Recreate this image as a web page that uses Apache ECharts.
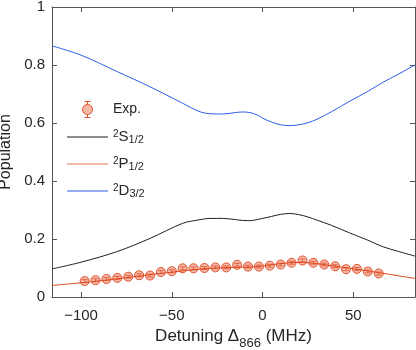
<!DOCTYPE html>
<html>
<head>
<meta charset="utf-8">
<script src="https://cdn.jsdelivr.net/npm/echarts@6/dist/echarts.min.js"></script>
<style>
  html, body { margin: 0; padding: 0; background: #fff; }
  #chart { width: 416px; height: 350px; }
</style>
</head>
<body>
<div id="chart"></div>
<script>
// measured points (Exp.)
const xExp = [-98, -92, -86, -80, -74, -68, -62, -56, -50, -44, -38, -32, -26, -20,
  -14, -8, -2, 4, 10, 16, 22, 28, 34, 40, 46, 52, 58, 64];
const yExp = [0.055, 0.058, 0.062, 0.066, 0.070, 0.075, 0.074, 0.086, 0.089, 0.099,
  0.099, 0.100, 0.102, 0.102, 0.111, 0.105, 0.105, 0.108, 0.112, 0.118, 0.126,
  0.118, 0.112, 0.106, 0.096, 0.097, 0.088, 0.081];
const errExp = [0.005, 0.005, 0.005, 0.005, 0.005, 0.005, 0.005, 0.005, 0.005, 0.005,
  0.005, 0.005, 0.005, 0.005, 0.005, 0.005, 0.005, 0.005, 0.005, 0.005, 0.005,
  0.005, 0.005, 0.005, 0.005, 0.005, 0.005, 0.005];

// simulated curves
const xSim = [-116, -100, -80, -62, -44, -35, -29, -22, -15, -11, -7, -3, 0, 5, 10, 15,
  20, 25, 30, 38, 48, 58, 66, 75, 84];
const popS = [0.097, 0.120, 0.157, 0.202, 0.254, 0.266, 0.271, 0.271, 0.267, 0.264,
  0.263, 0.267, 0.271, 0.278, 0.285, 0.288, 0.284, 0.276, 0.265, 0.247, 0.221,
  0.196, 0.174, 0.157, 0.141];
const popP = [0.040, 0.049, 0.063, 0.077, 0.090, 0.096, 0.099, 0.101, 0.102, 0.103,
  0.103, 0.105, 0.107, 0.111, 0.115, 0.118, 0.119, 0.118, 0.115, 0.108, 0.099,
  0.090, 0.082, 0.073, 0.064];
const popD = [0.866, 0.834, 0.777, 0.725, 0.668, 0.640, 0.632, 0.631, 0.636, 0.638,
  0.636, 0.628, 0.617, 0.603, 0.594, 0.591, 0.594, 0.601, 0.613, 0.639, 0.675,
  0.709, 0.739, 0.769, 0.800];

const xTicks = [-100, -50, 0, 50];
const legendText = {
  "Exp.": "Exp.",
  "S": "{sup|2}{n|S}{sub|1/2}",
  "P": "{sup|2}{n|P}{sub|1/2}",
  "D": "{sup|2}{n|D}{sub|3/2}"
};

const axisColor = "#555";
const textColor = "#262626";
const fontFamily = "Liberation Sans, Arial, sans-serif";
const lineIcon = "path://M0,0H42V1H0Z";

const pair = (xs, ys) => xs.map((x, i) => [x, ys[i]]);
const minus = v => String(v).replace("-", "\u2212");

const chart = echarts.init(document.getElementById("chart"));

chart.setOption({
  animation: false,
  textStyle: { fontFamily: fontFamily },
  grid: { left: 52, right: 1, top: 7, bottom: 53, outerBoundsMode: "none" },
  legend: {
    orient: "vertical",
    left: 67,
    top: 101,
    padding: 0,
    itemWidth: 41,
    itemHeight: 16,
    itemGap: -2,
    data: [
      {
        name: "Exp.",
        icon: "path://M5,3A5,5,0,1,1,5,13A5,5,0,1,1,5,3Z M5,0L5,3 M5,13L5,16 M2,0L8,0 M2,16L8,16",
        itemStyle: { color: "#F5B8A6", borderColor: "#E0502A", borderWidth: 1 }
      },
      { name: "S", icon: lineIcon, itemStyle: { color: "#1f1f1f" } },
      { name: "P", icon: "path://M0,0H42V1.6H0Z", itemStyle: { color: "#EFA38B" } },
      { name: "D", icon: lineIcon, itemStyle: { color: "#2B5CE6" } }
    ],
    formatter: name => legendText[name],
    textStyle: {
      color: textColor,
      fontSize: 14,
      rich: {
        n: { fontSize: 15, lineHeight: 16, verticalAlign: "top" },
        sup: { fontSize: 10, lineHeight: 10, verticalAlign: "top" },
        sub: { fontSize: 11, lineHeight: 10, verticalAlign: "bottom", padding: [18, 0, 0, 0] }
      }
    }
  },
  xAxis: [
    {
      type: "value",
      min: -116,
      max: 84,
      name: "{n|Detuning Δ}{sub|866}{n| (MHz)}",
      nameLocation: "middle",
      nameGap: 25,
      nameTextStyle: {
        color: textColor,
        rich: {
          n: { fontSize: 17, color: textColor },
          sub: { fontSize: 13, color: textColor, verticalAlign: "bottom", padding: [15, 0, 0, 0] }
        }
      },
      axisLine: { onZero: false, lineStyle: { color: axisColor } },
      axisTick: { inside: true, length: 5, customValues: xTicks, lineStyle: { color: axisColor } },
      axisLabel: { customValues: xTicks, formatter: minus, color: textColor, fontSize: 15, margin: 11 },
      splitLine: { show: false }
    },
    {
      type: "value",
      position: "top",
      min: -116,
      max: 84,
      axisLine: { show: true, onZero: false, lineStyle: { color: axisColor } },
      axisTick: { inside: true, length: 5, customValues: xTicks, lineStyle: { color: axisColor } },
      axisLabel: { show: false },
      splitLine: { show: false }
    }
  ],
  yAxis: [
    {
      type: "value",
      min: 0,
      max: 1,
      interval: 0.2,
      name: "Population",
      nameLocation: "middle",
      nameGap: 34,
      nameTextStyle: { color: textColor, fontSize: 16 },
      axisLine: { show: true, onZero: false, lineStyle: { color: axisColor } },
      axisTick: { inside: true, length: 5, lineStyle: { color: axisColor } },
      axisLabel: { color: textColor, fontSize: 15, margin: 7 },
      splitLine: { show: false }
    },
    {
      type: "value",
      position: "right",
      min: 0,
      max: 1,
      interval: 0.2,
      axisLine: { show: true, onZero: false, lineStyle: { color: axisColor } },
      axisTick: { inside: true, length: 5, lineStyle: { color: axisColor } },
      axisLabel: { show: false },
      splitLine: { show: false }
    }
  ],
  series: [
    {
      name: "Exp.",
      type: "custom",
      z: 3,
      renderItem: (params, api) => {
        const x = api.value(0);
        const lo = api.coord([x, api.value(1) - api.value(2)]);
        const hi = api.coord([x, api.value(1) + api.value(2)]);
        const style = { stroke: "#E0502A", lineWidth: 1 };
        return {
          type: "group",
          children: [
            { type: "line", shape: { x1: lo[0], y1: lo[1], x2: hi[0], y2: hi[1] }, style: style },
            { type: "line", shape: { x1: lo[0] - 3, y1: lo[1], x2: lo[0] + 3, y2: lo[1] }, style: style },
            { type: "line", shape: { x1: hi[0] - 3, y1: hi[1], x2: hi[0] + 3, y2: hi[1] }, style: style }
          ]
        };
      },
      data: xExp.map((x, i) => [x, yExp[i], errExp[i]])
    },
    {
      name: "Exp.",
      type: "scatter",
      z: 4,
      symbol: "circle",
      symbolSize: 9,
      itemStyle: { color: "rgba(236,120,90,0.5)", borderColor: "#E0502A", borderWidth: 1, opacity: 1 },
      data: pair(xExp, yExp)
    },
    {
      name: "S",
      type: "line",
      smooth: 0.35,
      symbol: "none",
      lineStyle: { color: "#1f1f1f", width: 1 },
      itemStyle: { color: "#1f1f1f" },
      data: pair(xSim, popS)
    },
    {
      name: "P",
      type: "line",
      smooth: 0.35,
      symbol: "none",
      z: 5,
      lineStyle: { color: "#E0451A", width: 1 },
      itemStyle: { color: "#E0451A" },
      data: pair(xSim, popP)
    },
    {
      name: "D",
      type: "line",
      smooth: 0.35,
      symbol: "none",
      lineStyle: { color: "#2B5CE6", width: 1 },
      itemStyle: { color: "#2B5CE6" },
      data: pair(xSim, popD)
    }
  ]
});
</script>
</body>
</html>
